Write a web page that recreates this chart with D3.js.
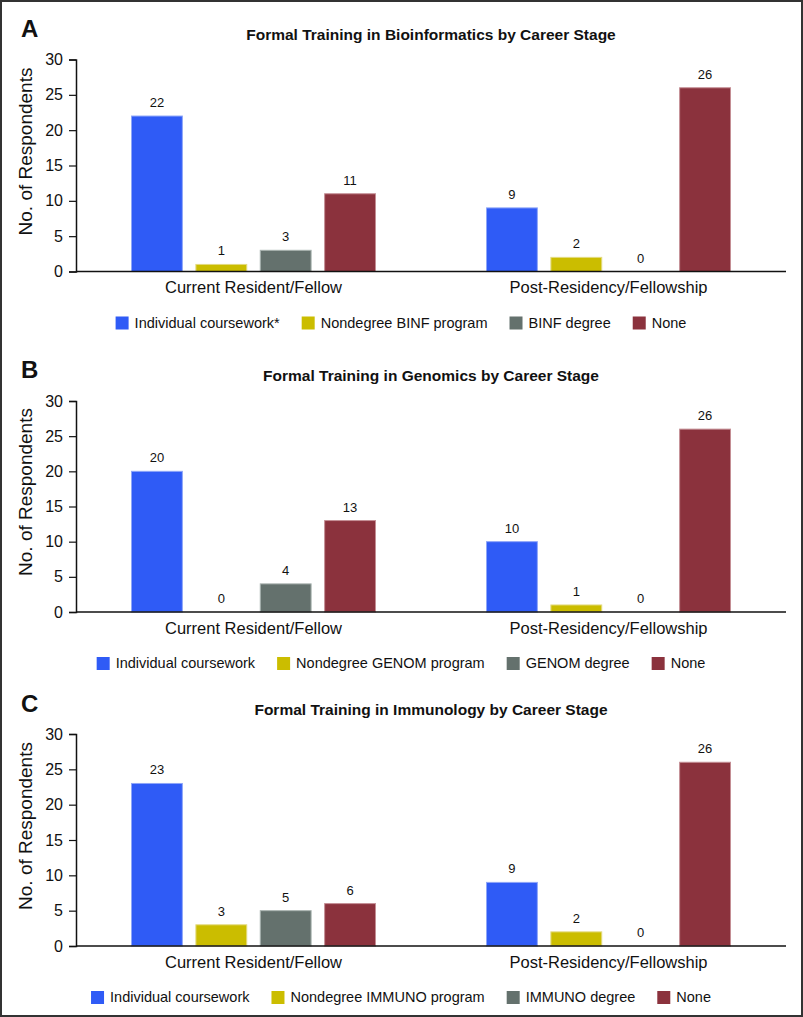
<!DOCTYPE html>
<html>
<head>
<meta charset="utf-8">
<script src="https://cdn.jsdelivr.net/npm/d3@7"></script>
<style>
  body { margin: 0; background: #fff; }
  svg text { font-family: "Liberation Sans", Arial, sans-serif; fill: #111; }
</style>
</head>
<body>
<div id="chart"></div>
<script>
// career stages (x categories)
var stages = ["Current Resident/Fellow", "Post-Residency/Fellowship"];

// panel A - bioinformatics
var binfCourse = [22, 9];
var binfNondegree = [1, 2];
var binfDegree = [3, 0];
var binfNone = [11, 26];
var binfLegend = ["Individual coursework*", "Nondegree BINF program", "BINF degree", "None"];

// panel B - genomics
var genomCourse = [20, 10];
var genomNondegree = [0, 1];
var genomDegree = [4, 0];
var genomNone = [13, 26];
var genomLegend = ["Individual coursework", "Nondegree GENOM program", "GENOM degree", "None"];

// panel C - immunology
var immunoCourse = [23, 9];
var immunoNondegree = [3, 2];
var immunoDegree = [5, 0];
var immunoNone = [6, 26];
var immunoLegend = ["Individual coursework", "Nondegree IMMUNO program", "IMMUNO degree", "None"];

var yTicks = [0, 5, 10, 15, 20, 25, 30];
var colors = ["#2f5bf6", "#cbbd00", "#64716d", "#8b323d"];
var strokes = ["#8ea6f8", "#e3da80", "#a9b3b0", "#c48e94"];

var width = 803, height = 1017;
var axisLeft = 76, axisRight = 786;

var svg = d3.select("#chart").append("svg")
  .attr("width", width)
  .attr("height", height);

// outer frame
svg.append("rect")
  .attr("x", 1).attr("y", 1)
  .attr("width", width - 2).attr("height", height - 2)
  .attr("fill", "none")
  .attr("stroke", "#333")
  .attr("stroke-width", 2);

var x0 = d3.scaleBand().domain(stages).range([axisLeft, axisRight]);
var x1 = d3.scaleBand().domain([0, 1, 2, 3])
  .range([55.5, 299.5])
  .paddingInner(0.21);

function drawPanel(letter, title, series, legend, top, base) {
  var g = svg.append("g");
  var y = d3.scaleLinear().domain([0, 30]).range([base, top]);

  g.append("text")
    .attr("x", 21).attr("y", base - 243)
    .attr("dy", "0.36em")
    .attr("font-size", 24).attr("font-weight", "bold")
    .text(letter);

  g.append("text")
    .attr("x", (axisLeft + axisRight) / 2).attr("y", base - 237)
    .attr("dy", "0.36em")
    .attr("text-anchor", "middle")
    .attr("font-size", 15.5).attr("font-weight", "bold")
    .text(title);

  // y axis
  var ax = g.append("g")
    .attr("transform", "translate(" + axisLeft + ",0)")
    .call(d3.axisLeft(y).tickValues(yTicks).tickSize(7).tickPadding(6));
  ax.select(".domain").attr("stroke", "#111").attr("stroke-width", 1.5);
  ax.selectAll(".tick line").attr("stroke", "#111").attr("stroke-width", 1.2);
  ax.selectAll(".tick text").attr("font-size", 16).attr("fill", "#111")
    .attr("font-family", "Liberation Sans, Arial, sans-serif");

  g.append("text")
    .attr("transform", "translate(25," + (base - 120) + ") rotate(-90)")
    .attr("dy", "0.36em")
    .attr("text-anchor", "middle")
    .attr("font-size", 19)
    .text("No. of Respondents");

  // bars
  stages.forEach(function(stage, i) {
    var grp = g.append("g").attr("transform", "translate(" + x0(stage) + ",0)");
    series.forEach(function(vals, s) {
      var v = vals[i];
      if (v > 0) {
        grp.append("rect")
          .attr("x", x1(s)).attr("y", y(v))
          .attr("width", x1.bandwidth())
          .attr("height", y(0) - y(v))
          .attr("fill", colors[s])
          .attr("stroke", strokes[s])
          .attr("stroke-width", 1);
      }
      grp.append("text")
        .attr("x", x1(s) + x1.bandwidth() / 2)
        .attr("y", y(v) - 9)
        .attr("text-anchor", "middle")
        .attr("font-size", 13)
        .text(v);
    });
    g.append("text")
      .attr("x", x0(stage) + x0.bandwidth() / 2)
      .attr("y", base + 16)
      .attr("dy", "0.36em")
      .attr("text-anchor", "middle")
      .attr("font-size", 16.5)
      .text(stage);
  });

  // x baseline
  g.append("line")
    .attr("x1", axisLeft).attr("x2", axisRight)
    .attr("y1", y(0)).attr("y2", y(0))
    .attr("stroke", "#111").attr("stroke-width", 1.5);

  // legend, centred
  var lg = g.append("g");
  var cx = 0, gap = 22;
  legend.forEach(function(name, s) {
    lg.append("rect")
      .attr("x", cx).attr("y", -6)
      .attr("width", 13).attr("height", 13)
      .attr("fill", colors[s]);
    var t = lg.append("text")
      .attr("x", cx + 19).attr("y", 0)
      .attr("dy", "0.36em")
      .attr("font-size", 14.5)
      .text(name);
    cx += 19 + t.node().getComputedTextLength() + gap;
  });
  var lw = cx - gap;
  lg.attr("transform", "translate(" + (401 - lw / 2) + "," + (base + 51) + ")");
}

drawPanel("A", "Formal Training in Bioinformatics by Career Stage",
  [binfCourse, binfNondegree, binfDegree, binfNone], binfLegend, 59.5, 271.5);
drawPanel("B", "Formal Training in Genomics by Career Stage",
  [genomCourse, genomNondegree, genomDegree, genomNone], genomLegend, 401, 612);
drawPanel("C", "Formal Training in Immunology by Career Stage",
  [immunoCourse, immunoNondegree, immunoDegree, immunoNone], immunoLegend, 734, 946);
</script>
</body>
</html>
